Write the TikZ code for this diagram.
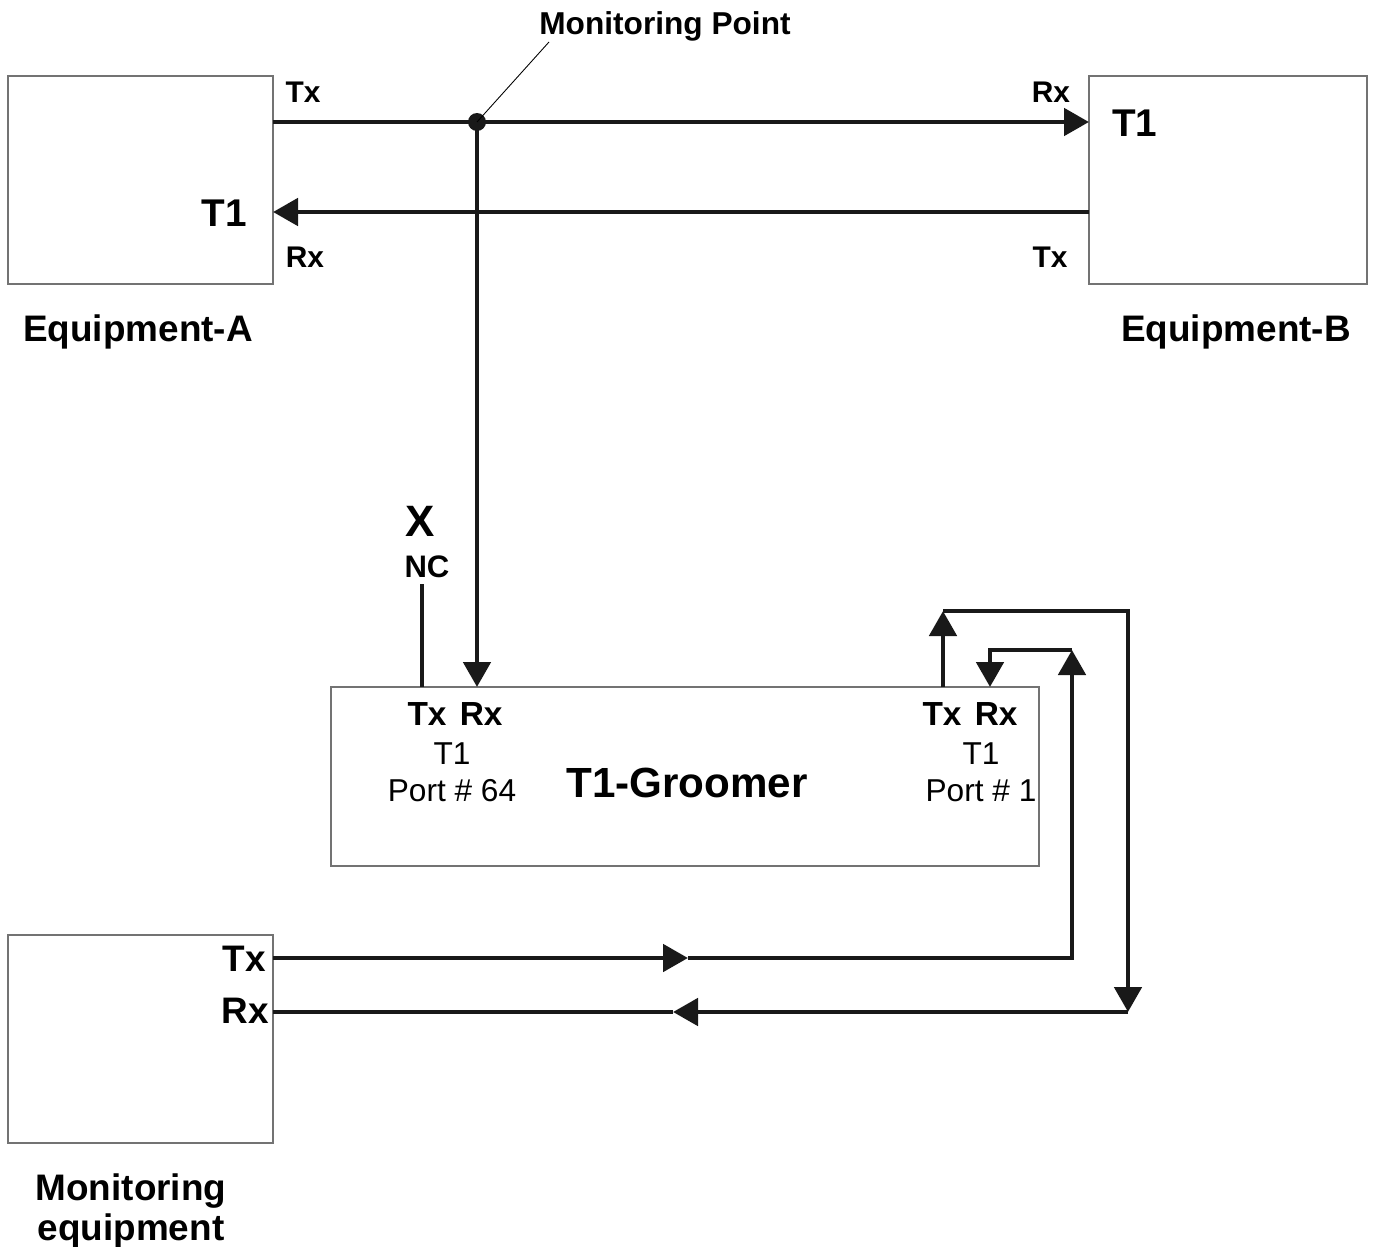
\documentclass[tikz,border=0pt]{standalone}
\usepackage{fontspec}
\setmainfont{Liberation Sans}
\usetikzlibrary{arrows.meta}
\usetikzlibrary{positioning}

\begin{document}
\begin{tikzpicture} [x=0.2mm, y=-0.2mm, >={Triangle[length=5mm,width=5.4mm]}]
            % Set primary nodes
            \tikzset{
                equipNode/.style={
                        draw=black!55,
                        line width=0.6pt,
                        rectangle,
                        minimum width=53mm,
                        minimum height=41.6mm
                    }
            }
            \tikzset{
                groomerNode/.style={
                        draw=black!55,
                        line width=0.6pt,
                        rectangle,
                        minimum width=141.6mm,
                        minimum height=35.8mm
                    }
            }
            \tikzset{
                dotNode/.style={
                        circle,
                        fill=black!90,
                        inner sep=0pt,
                        minimum size=3.6mm
                    }
            }
            \tikzset{
                portText/.style={
                        font=\bfseries\fontsize{17}{20}\selectfont,
                        anchor=base,
                        inner sep=0pt
                    }
            }
            \tikzset{
                bigText/.style={
                        font=\bfseries\fontsize{21}{25}\selectfont,
                        anchor=base,
                        inner sep=0pt
                    }
            }
            \tikzset{
                plainText/.style={
                        font=\fontsize{18}{21}\selectfont,
                        anchor=base,
                        inner sep=0pt
                    }
            }
            % Configure arrows
            \tikzstyle{signal} = [line width=2.8pt, black!90]
            \useasboundingbox (0,0) rectangle (1374,1247);
            % Placing nodes
            \node[equipNode](eqA) at (140.5,180){};
            \node[equipNode, minimum width=55.6mm](eqB) at (1228,180){};
            \node[groomerNode](groomer) at (685,776.5){};
            \node[equipNode](monEq) at (140.5,1039){};
            \node[dotNode](mp) at (477,122){};
            % Texts
            \node[portText, font=\bfseries\fontsize{18}{21}\selectfont](mpText) at (665,34){Monitoring Point};
            \node[portText](aTxText) at (303,102){Tx};
            \node[portText](aRxText) at (305,267){Rx};
            \node[bigText, font=\bfseries\fontsize{22}{26}\selectfont, anchor=base east](aT1) at (247,226){T1};
            \node[portText](bRxText) at (1051,102){Rx};
            \node[portText](bTxText) at (1050,267){Tx};
            \node[bigText, font=\bfseries\fontsize{22}{26}\selectfont, anchor=base west](bT1) at (1112,136){T1};
            \node[bigText](eqAText) at (138,341){Equipment-A};
            \node[bigText](eqBText) at (1236,341){Equipment-B};
            \node[bigText, font=\bfseries\fontsize{25}{30}\selectfont](xText) at (420,536){X};
            \node[portText, font=\bfseries\fontsize{17.7}{21}\selectfont](ncText) at (427,577){NC};
            \node[portText, font=\bfseries\fontsize{19}{22}\selectfont](g64TxRx) at (455,725){Tx\hspace{0.4em}Rx};
            \node[plainText](g64T1) at (452,764){T1};
            \node[plainText](g64Port) at (452,801){Port \# 64};
            \node[bigText, font=\bfseries\fontsize{24}{29}\selectfont](groomerText) at (687,797){T1-Groomer};
            \node[portText, font=\bfseries\fontsize{19}{22}\selectfont](g1TxRx) at (970,725){Tx\hspace{0.4em}Rx};
            \node[plainText](g1T1) at (981,764){T1};
            \node[plainText](g1Port) at (981,801){Port \# 1};
            \node[bigText, anchor=base east](monTxText) at (266,971){Tx};
            \node[bigText, anchor=base east](monRxText) at (269,1023){Rx};
            \node[bigText](monText1) at (131,1200){Monitoring};
            \node[bigText](monText2) at (131,1240){equipment};
            % Set coordinates
            \coordinate (aTx) at (273,122);
            \coordinate (bRx) at (1089,122);
            \coordinate (bTx) at (1089,212);
            \coordinate (aRx) at (273,212);
            \coordinate (mpLead) at (549,42);
            \coordinate (ncTop) at (422,584);
            \coordinate (g64Tx) at (422,687);
            \coordinate (g64Rx) at (477,687);
            \coordinate (g1Tx) at (943,687);
            \coordinate (g1TxUp) at (943,611);
            \coordinate (outerRight) at (1128,611);
            \coordinate (outerDown) at (1128,1012);
            \coordinate (monRxMid) at (673,1012);
            \coordinate (monRx) at (273,1012);
            \coordinate (monTx) at (273,958);
            \coordinate (monTxMid) at (688,958);
            \coordinate (innerRight) at (1072,958);
            \coordinate (innerUp) at (1072,650);
            \coordinate (innerLeft) at (990,650);
            \coordinate (g1Rx) at (990,687);
            % Draw arrows
            \draw[signal,->](aTx) -- (bRx);
            \draw[signal,->](bTx) -- (aRx);
            \draw[signal,->](mp.center) -- (g64Rx);
            \draw[line width=0.5pt](mp.center) -- (mpLead);
            \draw[signal](ncTop) -- (g64Tx);
            \draw[signal,->](g1Tx) -- (g1TxUp);
            \draw[signal,->](g1TxUp) -- (outerRight) -- (outerDown);
            \draw[signal,->](outerDown) -- (monRxMid);
            \draw[signal](monRxMid) -- (monRx);
            \draw[signal,->](monTx) -- (monTxMid);
            \draw[signal,->](monTxMid) -- (innerRight) -- (innerUp);
            \draw[signal,->](innerUp) -- (innerLeft) -- (g1Rx);
        \end{tikzpicture}
\end{document}
